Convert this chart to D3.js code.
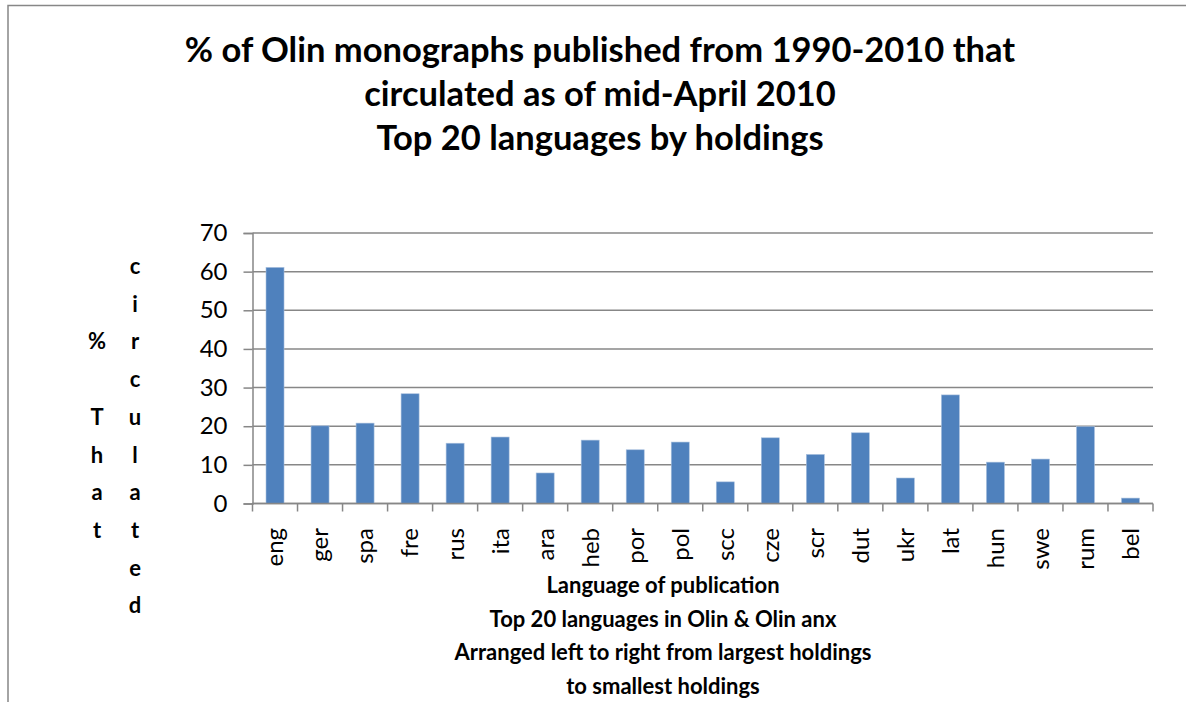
<!DOCTYPE html>
<html>
<head>
<meta charset="utf-8">
<script src="https://cdn.jsdelivr.net/npm/d3@7"></script>
<style>
  html, body { margin: 0; background: #fff; overflow: hidden; }
  svg { display: block; }
  text { font-family: Lato, "Open Sans", sans-serif; fill: #000; }
</style>
</head>
<body>
<svg id="chart" width="1186" height="702"></svg>
<script>
// chart data
var languages = ["eng", "ger", "spa", "fre", "rus", "ita", "ara", "heb", "por", "pol",
                 "scc", "cze", "scr", "dut", "ukr", "lat", "hun", "swe", "rum", "bel"];
var pctCirculated = [61.1, 20.1, 20.8, 28.4, 15.6, 17.2, 7.9, 16.4, 13.9, 15.9,
                     5.6, 17.0, 12.7, 18.3, 6.6, 28.1, 10.7, 11.5, 19.9, 1.4];
var yTicks = [0, 10, 20, 30, 40, 50, 60, 70];

var titleLines = ["% of Olin monographs published from 1990-2010 that",
                  "circulated as of mid-April 2010",
                  "Top 20 languages by holdings"];
var xTitleLines = ["Language of publication",
                   "Top 20 languages in Olin & Olin anx",
                   "Arranged left to right from largest holdings",
                   "to smallest holdings"];
// the y title is stacked letter by letter, in two columns
var yTitleCols = ["% That", "circulated"];

var svg = d3.select("#chart");
var plotLeft = 252.5, plotRight = 1153, plotTop = 233, plotBottom = 503.5;
var gray = "#878787";

// outer chart border: only its left and top edges are in view
svg.append("path")
    .attr("d", "M8,702V5.5H1186")
    .attr("fill", "none").attr("stroke", gray).attr("stroke-width", 1.5);

var xBand = d3.scaleBand().domain(languages).range([plotLeft, plotRight]);
var yScale = d3.scaleLinear().domain([0, 70]).range([plotBottom, plotTop]);

// gridlines
svg.append("g").selectAll("line")
    .data(yTicks)
    .enter().append("line")
    .attr("x1", plotLeft).attr("x2", plotRight)
    .attr("y1", function(d) { return yScale(d); })
    .attr("y2", function(d) { return yScale(d); })
    .attr("stroke", gray).attr("stroke-width", 1.5);

// y axis
var yAxis = svg.append("g")
    .attr("transform", "translate(" + plotLeft + ",0)")
    .call(d3.axisLeft(yScale).tickValues(yTicks).tickSize(9).tickPadding(16));
yAxis.select(".domain").attr("stroke", gray).attr("stroke-width", 1.5);
yAxis.selectAll(".tick line").attr("stroke", gray).attr("stroke-width", 1.5);
yAxis.selectAll(".tick text")
    .attr("font-family", "Lato, 'Open Sans', sans-serif")
    .attr("font-size", 24).attr("fill", "#000");

// bars
var step = xBand.step();
svg.append("g").selectAll("rect")
    .data(languages)
    .enter().append("rect")
    .attr("x", function(d) { return xBand(d) + step * 0.3; })
    .attr("width", step * 0.4)
    .attr("y", function(d, i) { return yScale(pctCirculated[i]); })
    .attr("height", function(d, i) { return plotBottom - yScale(pctCirculated[i]); })
    .attr("fill", "#4f81bd")
    .attr("stroke", "#a9c0de").attr("stroke-width", 0.6);

// x axis line and boundary ticks
svg.append("line")
    .attr("x1", plotLeft).attr("x2", plotRight)
    .attr("y1", plotBottom).attr("y2", plotBottom)
    .attr("stroke", gray).attr("stroke-width", 1.5);
var edges = languages.map(function(d) { return xBand(d); }).concat([plotRight]);
svg.append("g").selectAll("line")
    .data(edges)
    .enter().append("line")
    .attr("x1", function(d) { return d; }).attr("x2", function(d) { return d; })
    .attr("y1", plotBottom).attr("y2", plotBottom + 8)
    .attr("stroke", gray).attr("stroke-width", 1.5);

// rotated category labels
svg.append("g").selectAll("text")
    .data(languages)
    .enter().append("text")
    .attr("transform", function(d) {
        return "translate(" + (xBand(d) + step / 2) + "," + 528 + ") rotate(-90)";
    })
    .attr("text-anchor", "end")
    .attr("dy", "0.35em")
    .attr("font-size", 24)
    .text(function(d) { return d; });

// chart title
svg.append("g").selectAll("text")
    .data(titleLines)
    .enter().append("text")
    .attr("x", 600)
    .attr("y", function(d, i) { return 62 + i * 44; })
    .attr("text-anchor", "middle")
    .attr("font-size", 34.5).attr("font-weight", "bold")
    .text(function(d) { return d; });

// x axis title
svg.append("g").selectAll("text")
    .data(xTitleLines)
    .enter().append("text")
    .attr("x", 663)
    .attr("y", function(d, i) { return 593 + i * 33.5; })
    .attr("text-anchor", "middle")
    .attr("font-size", 22).attr("font-weight", "bold")
    .text(function(d) { return d; });

// y axis title, one letter per line, each column centred on y=436
var colX = [97, 135];
var lineGap = 37.7;
yTitleCols.forEach(function(word, c) {
    var chars = word.split("");
    var y0 = 436 - (chars.length - 1) * lineGap / 2;
    svg.append("g").selectAll("text")
        .data(chars)
        .enter().append("text")
        .attr("x", colX[c])
        .attr("y", function(d, i) { return y0 + i * lineGap; })
        .attr("dy", "0.35em")
        .attr("text-anchor", "middle")
        .attr("font-size", 22).attr("font-weight", "bold")
        .text(function(d) { return d; });
});
</script>
</body>
</html>
